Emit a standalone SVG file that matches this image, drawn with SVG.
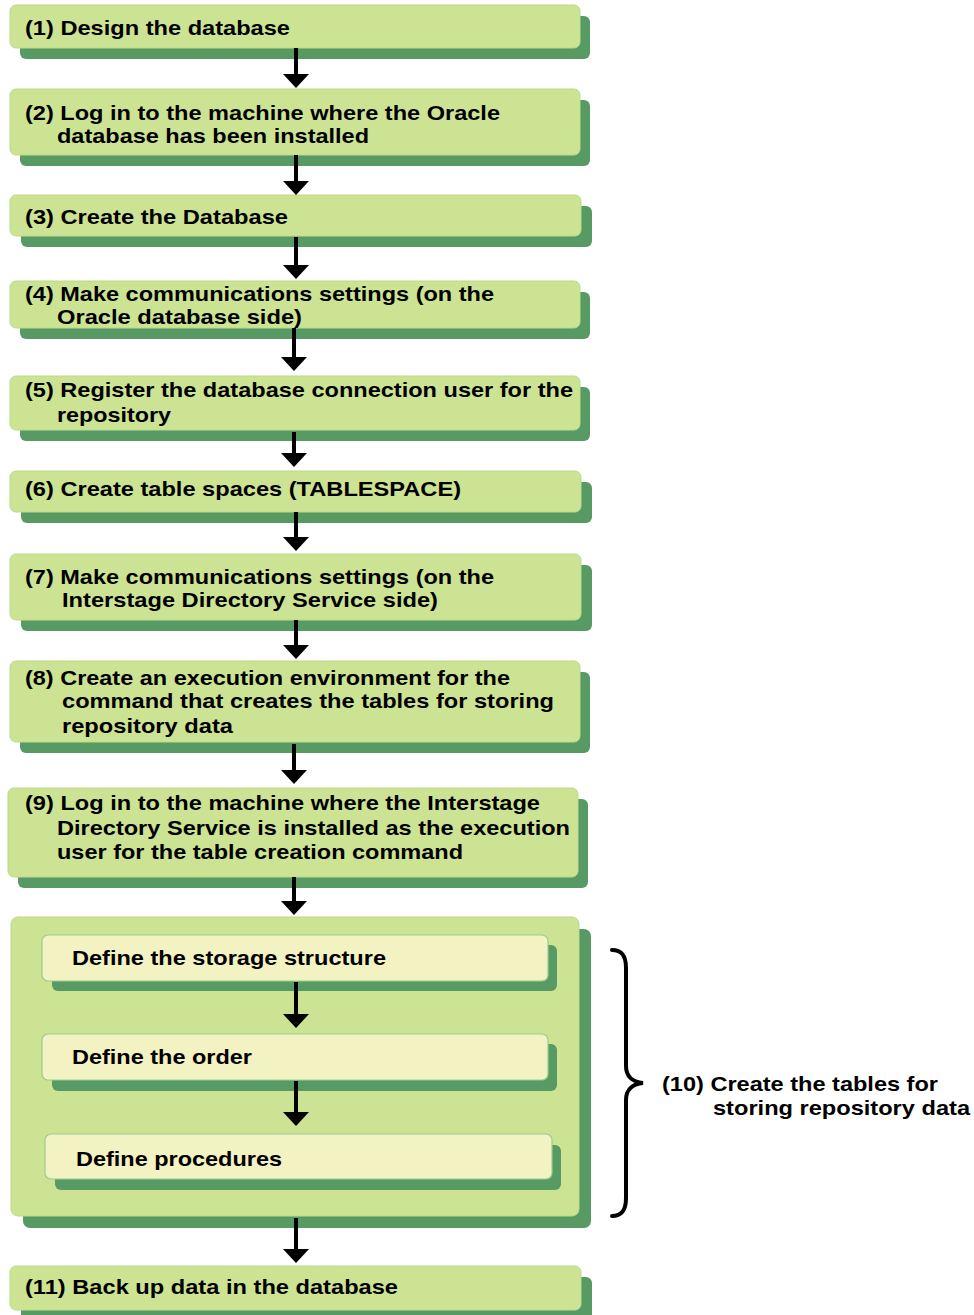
<svg xmlns="http://www.w3.org/2000/svg" width="974" height="1315" viewBox="0 0 974 1315">
  <defs>
    <style>
      .box { fill: #cde394; stroke: #bcd98b; stroke-width: 1; }
      .shadow { fill: #579a64; }
      .inner { fill: #f3f2c2; stroke: #9ccd8c; stroke-width: 1.2; }
      .t { font-family: "Liberation Sans", Arial, sans-serif; font-weight: bold; font-size: 21px; fill: #000; }
      .conn line { stroke: #000; stroke-width: 4; }
      .conn polygon { fill: #000; }
      .brace { fill: none; stroke: #000; stroke-width: 4; stroke-linecap: round; }
    </style>
  </defs>
  <rect width="974" height="1315" fill="#ffffff"/>

  <!-- step 1 -->
  <g id="step1">
    <rect class="shadow" x="20" y="16" width="570" height="43" rx="6"/>
    <rect class="box" x="10" y="5" width="570" height="43" rx="6"/>
    <text class="t" x="25" y="35" textLength="265" lengthAdjust="spacingAndGlyphs">(1) Design the database</text>
  </g>

  <!-- step 2 -->
  <g id="step2">
    <rect class="shadow" x="20" y="100" width="570" height="66" rx="6"/>
    <rect class="box" x="10" y="89" width="570" height="66" rx="6"/>
    <text class="t" x="25" y="120" textLength="475" lengthAdjust="spacingAndGlyphs">(2) Log in to the machine where the Oracle</text>
    <text class="t" x="57" y="143" textLength="312" lengthAdjust="spacingAndGlyphs">database has been installed</text>
  </g>

  <!-- step 3 -->
  <g id="step3">
    <rect class="shadow" x="21" y="206" width="571" height="41" rx="6"/>
    <rect class="box" x="10" y="195" width="571" height="41" rx="6"/>
    <text class="t" x="25" y="224" textLength="263" lengthAdjust="spacingAndGlyphs">(3) Create the Database</text>
  </g>

  <!-- step 4 -->
  <g id="step4">
    <rect class="shadow" x="20" y="292" width="570" height="47" rx="6"/>
    <rect class="box" x="10" y="281" width="570" height="47" rx="6"/>
    <text class="t" x="25" y="301" textLength="469" lengthAdjust="spacingAndGlyphs">(4) Make communications settings (on the</text>
    <text class="t" x="57" y="324" textLength="245" lengthAdjust="spacingAndGlyphs">Oracle database side)</text>
  </g>

  <!-- step 5 -->
  <g id="step5">
    <rect class="shadow" x="20" y="387" width="570" height="54" rx="6"/>
    <rect class="box" x="10" y="376" width="570" height="54" rx="6"/>
    <text class="t" x="25" y="397" textLength="548" lengthAdjust="spacingAndGlyphs">(5) Register the database connection user for the</text>
    <text class="t" x="57" y="422" textLength="114" lengthAdjust="spacingAndGlyphs">repository</text>
  </g>

  <!-- step 6 -->
  <g id="step6">
    <rect class="shadow" x="21" y="482" width="571" height="41" rx="6"/>
    <rect class="box" x="10" y="471" width="571" height="41" rx="6"/>
    <text class="t" x="25" y="496" textLength="436" lengthAdjust="spacingAndGlyphs">(6) Create table spaces (TABLESPACE)</text>
  </g>

  <!-- step 7 -->
  <g id="step7">
    <rect class="shadow" x="21" y="565" width="571" height="66" rx="6"/>
    <rect class="box" x="10" y="554" width="571" height="66" rx="6"/>
    <text class="t" x="25" y="584" textLength="469" lengthAdjust="spacingAndGlyphs">(7) Make communications settings (on the</text>
    <text class="t" x="62" y="607" textLength="376" lengthAdjust="spacingAndGlyphs">Interstage Directory Service side)</text>
  </g>

  <!-- step 8 -->
  <g id="step8">
    <rect class="shadow" x="20" y="672" width="570" height="81" rx="6"/>
    <rect class="box" x="10" y="661" width="570" height="81" rx="6"/>
    <text class="t" x="25" y="685" textLength="485" lengthAdjust="spacingAndGlyphs">(8) Create an execution environment for the</text>
    <text class="t" x="62" y="708" textLength="492" lengthAdjust="spacingAndGlyphs">command that creates the tables for storing</text>
    <text class="t" x="62" y="733" textLength="171" lengthAdjust="spacingAndGlyphs">repository data</text>
  </g>

  <!-- step 9 -->
  <g id="step9">
    <rect class="shadow" x="18" y="799" width="570" height="89" rx="6"/>
    <rect class="box" x="8" y="788" width="570" height="89" rx="6"/>
    <text class="t" x="25" y="810" textLength="515" lengthAdjust="spacingAndGlyphs">(9) Log in to the machine where the Interstage</text>
    <text class="t" x="57" y="835" textLength="513" lengthAdjust="spacingAndGlyphs">Directory Service is installed as the execution</text>
    <text class="t" x="57" y="859" textLength="406" lengthAdjust="spacingAndGlyphs">user for the table creation command</text>
  </g>

  <!-- step 10: container with sub-steps -->
  <g id="step10">
    <rect class="shadow" x="23" y="929" width="568" height="299" rx="7"/>
    <rect class="box" x="11" y="917" width="568" height="299" rx="7"/>
    <g id="step10-storage">
      <rect class="shadow" x="52" y="945" width="505" height="46" rx="6"/>
      <rect class="inner" x="42" y="935" width="506" height="46" rx="6"/>
      <text class="t" x="72" y="965" textLength="314" lengthAdjust="spacingAndGlyphs">Define the storage structure</text>
    </g>
    <g id="step10-order">
      <rect class="shadow" x="52" y="1044" width="505" height="47" rx="6"/>
      <rect class="inner" x="42" y="1034" width="506" height="46" rx="6"/>
      <text class="t" x="72" y="1064" textLength="180" lengthAdjust="spacingAndGlyphs">Define the order</text>
    </g>
    <g id="step10-procedures">
      <rect class="shadow" x="55" y="1145" width="506" height="45" rx="6"/>
      <rect class="inner" x="45" y="1134" width="507" height="45" rx="6"/>
      <text class="t" x="76" y="1166" textLength="206" lengthAdjust="spacingAndGlyphs">Define procedures</text>
    </g>
  </g>

  <!-- label for step 10 with brace -->
  <g id="step10-label">
    <path class="brace" d="M612,950 C622,950 626,956 626,968 L626,1066 C626,1076 632,1082 643,1083 C632,1084 626,1090 626,1100 L626,1198 C626,1210 622,1216 612,1216"/>
    <text class="t" x="662" y="1091" textLength="276" lengthAdjust="spacingAndGlyphs">(10) Create the tables for</text>
    <text class="t" x="713" y="1115" textLength="257" lengthAdjust="spacingAndGlyphs">storing repository data</text>
  </g>

  <!-- step 11 -->
  <g id="step11">
    <rect class="shadow" x="21" y="1277" width="571" height="44" rx="6"/>
    <rect class="box" x="10" y="1266" width="571" height="44" rx="6"/>
    <text class="t" x="25" y="1294" textLength="373" lengthAdjust="spacingAndGlyphs">(11) Back up data in the database</text>
  </g>

  <!-- connectors: shaft plus filled head -->
  <g id="connectors" class="conn">
    <line x1="296" y1="48" x2="296" y2="75"/><polygon points="283,74 309,74 296,88"/>
    <line x1="296" y1="155" x2="296" y2="182"/><polygon points="283,181 309,181 296,195"/>
    <line x1="296" y1="237" x2="296" y2="266"/><polygon points="283,265 309,265 296,279"/>
    <line x1="294" y1="328" x2="294" y2="358"/><polygon points="281,357 307,357 294,371"/>
    <line x1="294" y1="432" x2="294" y2="454"/><polygon points="281,453 307,453 294,467"/>
    <line x1="296" y1="512" x2="296" y2="538"/><polygon points="283,537 309,537 296,551"/>
    <line x1="296" y1="620" x2="296" y2="646"/><polygon points="283,645 309,645 296,659"/>
    <line x1="294" y1="744" x2="294" y2="771"/><polygon points="281,770 307,770 294,784"/>
    <line x1="294" y1="877" x2="294" y2="902"/><polygon points="281,901 307,901 294,915"/>
    <line x1="296" y1="982" x2="296" y2="1015"/><polygon points="283,1014 309,1014 296,1028"/>
    <line x1="296" y1="1081" x2="296" y2="1113"/><polygon points="283,1112 309,1112 296,1126"/>
    <line x1="296" y1="1218" x2="296" y2="1250"/><polygon points="283,1249 309,1249 296,1263"/>
  </g>
</svg>
